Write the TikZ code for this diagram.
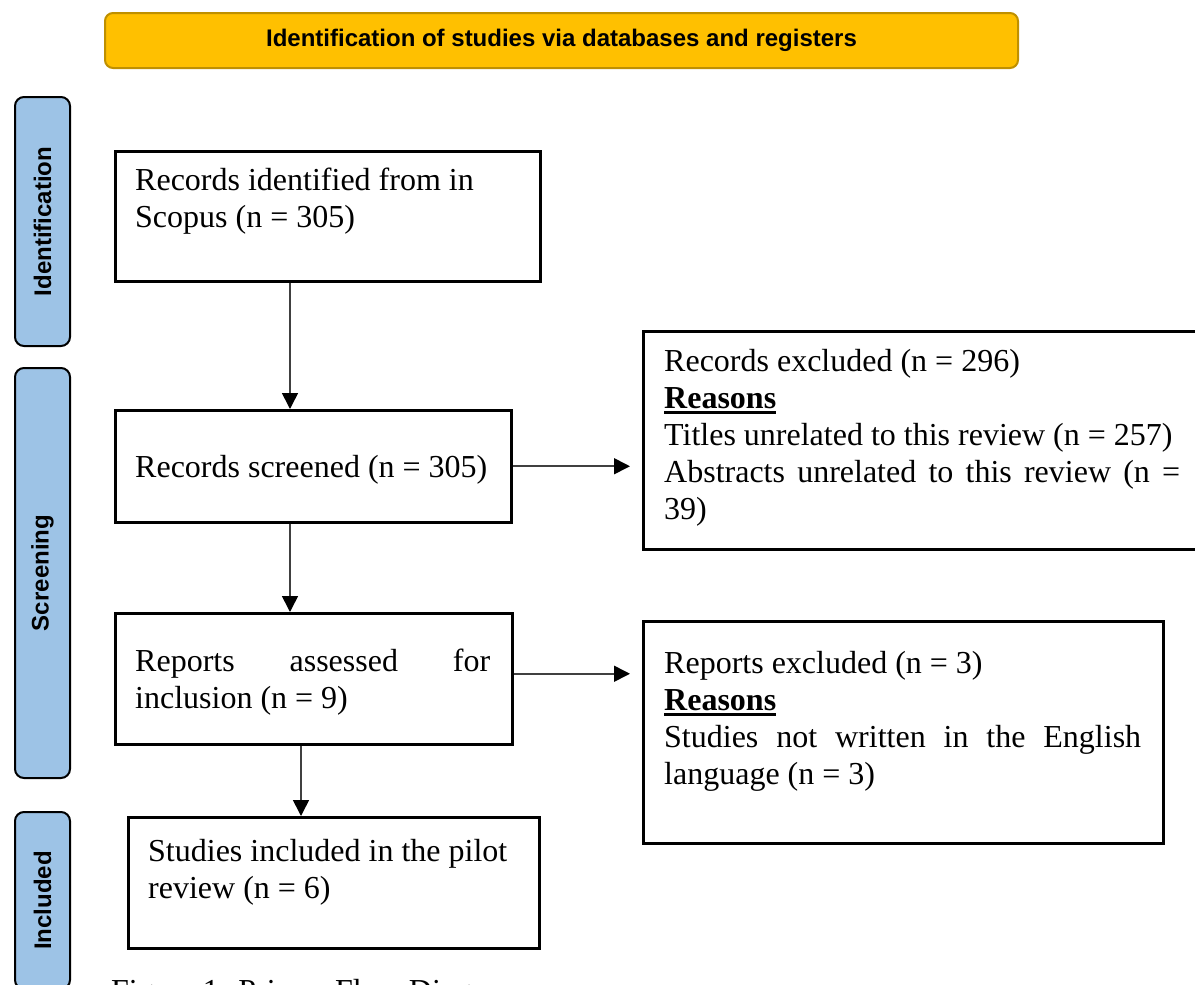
\documentclass[tikz,border=0pt]{standalone}
\usepackage{fontspec}
\setmainfont{Liberation Serif}
\newfontfamily\headfont{Liberation Sans}
\usetikzlibrary{arrows.meta}
\definecolor{headfill}{HTML}{FFC000}
\definecolor{headline}{HTML}{BF9000}
\definecolor{barfill}{HTML}{9DC3E6}
\definecolor{arrowgray}{HTML}{404040}
% bold heading with a heavy underline
\newcommand{\thickul}[1]{\setbox0=\hbox{#1}\rlap{\rule[-5pt]{\wd0}{3pt}}\box0}
\begin{document}
\begin{tikzpicture}[x=1pt,y=-1pt,
  stagebox/.style={draw=black, line width=2.5pt, rectangle, inner sep=0pt, anchor=north west},
  phasebar/.style={draw=black, line width=2pt, fill=barfill, rounded corners=9pt, inner sep=0pt, anchor=north west, minimum width=55pt},
  phaselabel/.style={font=\headfont\bfseries\fontsize{24}{28}\selectfont, rotate=90, inner sep=0pt},
  bodytext/.style={font=\fontsize{32}{37}\selectfont, inner sep=0pt, anchor=north west, align=left},
  flow/.style={draw=arrowgray, line width=1.6pt, -{Triangle[length=16pt,width=16pt,color=black]}}
]
\useasboundingbox (0,0) rectangle (1195,985);

% title banner
\node[draw=headline, line width=2pt, fill=headfill, rounded corners=8pt,
      minimum width=913pt, minimum height=55pt, anchor=north west, inner sep=0pt,
      font=\headfont\bfseries\fontsize{24}{28}\selectfont] (head) at (104,12)
      {Identification of studies via databases and registers};

% phase bars
\node[phasebar, minimum height=249pt] (pid) at (14,96) {};
\node[phaselabel] (lid) at (pid.center) {Identification};
\node[phasebar, minimum height=410pt] (pscr) at (14,367) {};
\node[phaselabel] (lscr) at (pscr.center) {Screening};
\node[phasebar, minimum height=177pt] (pinc) at (14,811) {};
\node[phaselabel] (linc) at (pinc.center) {Included};

% flow boxes
\node[stagebox, minimum width=425pt, minimum height=130pt] (b1) at (114,150) {};
\node[stagebox, minimum width=396pt, minimum height=112pt] (b2) at (114,409) {};
\node[stagebox, minimum width=580pt, minimum height=218pt] (b3) at (642,330) {};
\node[stagebox, minimum width=397pt, minimum height=131pt] (b4) at (114,612) {};
\node[stagebox, minimum width=520pt, minimum height=222pt] (b5) at (642,620) {};
\node[stagebox, minimum width=411pt, minimum height=131pt] (b6) at (127,816) {};

% box texts
\node[bodytext] (t1) at (135,164.6) {\strut Records identified from in\\Scopus (n = 305)};
\node[bodytext] (t2) at (135,451.6) {\strut Records screened (n = 305)};
\node[bodytext] (t3) at (664,345.6) {\strut Records excluded (n = 296)\\
  \textbf{\thickul{Reasons}}\\
  Titles unrelated to this review (n = 257)\\
  \makebox[516pt][s]{Abstracts unrelated to this review (n =}\\
  39)};
\node[bodytext] (t4) at (135,645.6) {\strut\makebox[355pt][s]{Reports assessed for}\\inclusion (n = 9)};
\node[bodytext] (t5) at (664,647.6) {\strut Reports excluded (n = 3)\\
  \textbf{\thickul{Reasons}}\\
  \makebox[477pt][s]{Studies not written in the English}\\
  language (n = 3)};
\node[bodytext] (t6) at (148,835.6) {\strut Studies included in the pilot\\review (n = 6)};

% caption
\node[font=\fontsize{32}{37}\selectfont, anchor=base west, inner sep=0pt] (cap) at (111,1001)
  {Figure 1: Prisma Flow Diagram};

% connectors
\draw[flow] ([xshift=176pt]b1.south west) -- ([xshift=176pt]b2.north west);
\draw[flow] ([xshift=176pt]b2.south west) -- ([xshift=176pt]b4.north west);
\draw[flow] ([xshift=187pt]b4.south west) -- ([xshift=174pt]b6.north west);
\draw[flow, shorten >=12pt] (b2.east) -- (b2.east -| b3.west);
\draw[flow, shorten >=12pt] ([yshift=5pt]b4.east) -- ([yshift=5pt]b4.east -| b5.west);
\end{tikzpicture}
\end{document}
